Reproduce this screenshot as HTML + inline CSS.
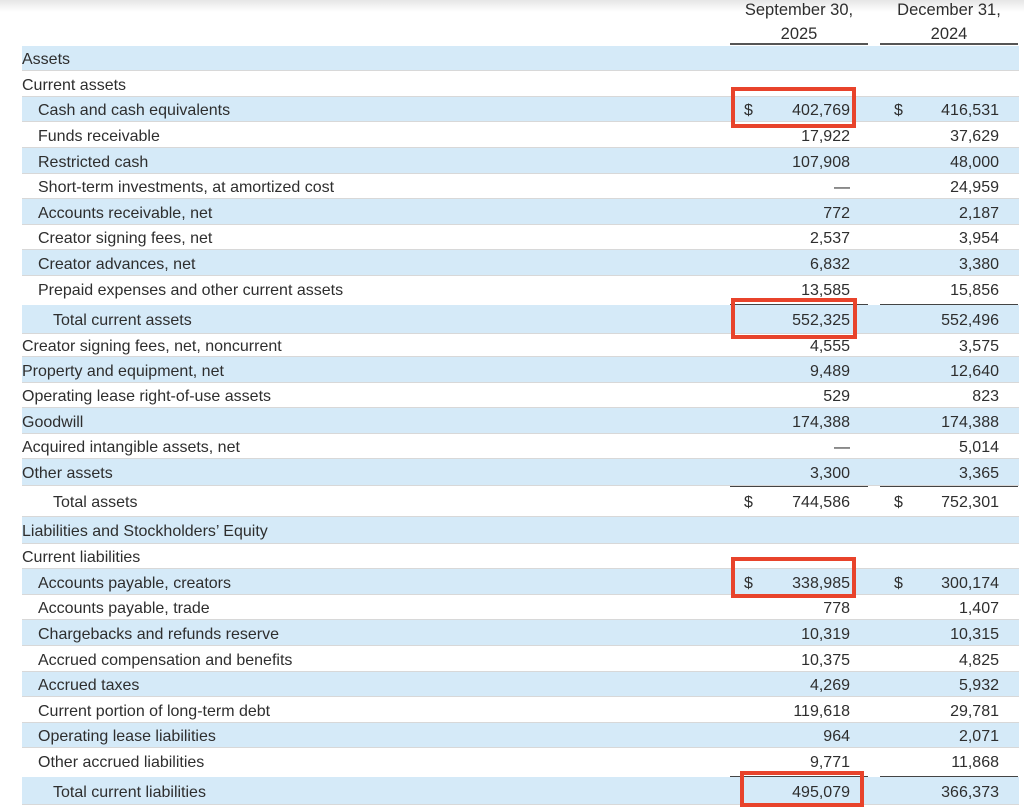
<!DOCTYPE html>
<html><head><meta charset="utf-8"><style>
body{margin:0;width:1024px;height:807px;background:#fff;position:relative;overflow:hidden;font-family:"Liberation Sans",sans-serif;color:#2e2e2e;font-size:16px}
.r{position:absolute;left:22px;width:997px;border-bottom:1px solid #d8d8d8;box-sizing:border-box}
.s{background:#d5eaf8}
.r span{margin-top:2px}
.l{position:absolute;top:50%;transform:translateY(-50%);white-space:nowrap}
.n1{position:absolute;right:169px;top:50%;transform:translateY(-50%)}
.n2{position:absolute;right:20px;top:50%;transform:translateY(-50%)}
.d1{position:absolute;left:722px;top:50%;transform:translateY(-50%)}
.d2{position:absolute;left:872px;top:50%;transform:translateY(-50%)}
.h{position:absolute;text-align:center;width:138px;line-height:24px;font-size:16.5px}
.u{position:absolute;height:2px;background:#555}
.ul{position:absolute;height:1px;background:#444}
.box{position:absolute;border:4px solid #e8432b;box-sizing:border-box}
</style></head><body>
<div style="position:absolute;left:0;top:0;width:1024px;height:12px;background:linear-gradient(#e6e6e6,#fff)"></div>
<div class="h" style="left:730px;top:-2px">September 30,<br>2025</div>
<div class="h" style="left:880px;top:-2px">December 31,<br>2024</div>
<div class="u" style="left:730px;top:43px;width:138px"></div>
<div class="u" style="left:880px;top:43px;width:138px"></div>

<div class="r s" style="top:46px;height:25px"><span class="l" style="left:0">Assets</span></div>
<div class="r" style="top:71px;height:26px"><span class="l" style="left:0">Current assets</span></div>
<div class="r s" style="top:97px;height:25px"><span class="l" style="left:16px">Cash and cash equivalents</span><span class="d1">$</span><span class="n1">402,769</span><span class="d2">$</span><span class="n2">416,531</span></div>
<div class="r" style="top:122px;height:26px"><span class="l" style="left:16px">Funds receivable</span><span class="n1">17,922</span><span class="n2">37,629</span></div>
<div class="r s" style="top:148px;height:26px"><span class="l" style="left:16px">Restricted cash</span><span class="n1">107,908</span><span class="n2">48,000</span></div>
<div class="r" style="top:174px;height:25px"><span class="l" style="left:16px">Short-term investments, at amortized cost</span><span class="n1">—</span><span class="n2">24,959</span></div>
<div class="r s" style="top:199px;height:26px"><span class="l" style="left:16px">Accounts receivable, net</span><span class="n1">772</span><span class="n2">2,187</span></div>
<div class="r" style="top:225px;height:25px"><span class="l" style="left:16px">Creator signing fees, net</span><span class="n1">2,537</span><span class="n2">3,954</span></div>
<div class="r s" style="top:250px;height:26px"><span class="l" style="left:16px">Creator advances, net</span><span class="n1">6,832</span><span class="n2">3,380</span></div>
<div class="r" style="top:276px;height:29px;border-bottom:none"><span class="l" style="left:16px;top:13px">Prepaid expenses and other current assets</span><span class="n1" style="top:13px">13,585</span><span class="n2" style="top:13px">15,856</span></div>
<div class="r s" style="top:305px;height:29px"><span class="l" style="left:31px">Total current assets</span><span class="n1">552,325</span><span class="n2">552,496</span></div>
<div class="r" style="top:334px;height:23px"><span class="l" style="left:0">Creator signing fees, net, noncurrent</span><span class="n1">4,555</span><span class="n2">3,575</span></div>
<div class="r s" style="top:357px;height:26px"><span class="l" style="left:0">Property and equipment, net</span><span class="n1">9,489</span><span class="n2">12,640</span></div>
<div class="r" style="top:383px;height:25px"><span class="l" style="left:0">Operating lease right-of-use assets</span><span class="n1">529</span><span class="n2">823</span></div>
<div class="r s" style="top:408px;height:26px"><span class="l" style="left:0">Goodwill</span><span class="n1">174,388</span><span class="n2">174,388</span></div>
<div class="r" style="top:434px;height:25px"><span class="l" style="left:0">Acquired intangible assets, net</span><span class="n1">—</span><span class="n2">5,014</span></div>
<div class="r s" style="top:459px;height:27px"><span class="l" style="left:0">Other assets</span><span class="n1">3,300</span><span class="n2">3,365</span></div>
<div class="r" style="top:486px;height:31px"><span class="l" style="left:31px">Total assets</span><span class="d1">$</span><span class="n1">744,586</span><span class="d2">$</span><span class="n2">752,301</span></div>
<div class="r s" style="top:517px;height:27px"><span class="l" style="left:0">Liabilities and Stockholders’ Equity</span></div>
<div class="r" style="top:544px;height:25px"><span class="l" style="left:0">Current liabilities</span></div>
<div class="r s" style="top:569px;height:26px"><span class="l" style="left:16px">Accounts payable, creators</span><span class="d1">$</span><span class="n1">338,985</span><span class="d2">$</span><span class="n2">300,174</span></div>
<div class="r" style="top:595px;height:25px"><span class="l" style="left:16px">Accounts payable, trade</span><span class="n1">778</span><span class="n2">1,407</span></div>
<div class="r s" style="top:620px;height:26px"><span class="l" style="left:16px">Chargebacks and refunds reserve</span><span class="n1">10,319</span><span class="n2">10,315</span></div>
<div class="r" style="top:646px;height:26px"><span class="l" style="left:16px">Accrued compensation and benefits</span><span class="n1">10,375</span><span class="n2">4,825</span></div>
<div class="r s" style="top:672px;height:25px"><span class="l" style="left:16px">Accrued taxes</span><span class="n1">4,269</span><span class="n2">5,932</span></div>
<div class="r" style="top:697px;height:26px"><span class="l" style="left:16px">Current portion of long-term debt</span><span class="n1">119,618</span><span class="n2">29,781</span></div>
<div class="r s" style="top:723px;height:25px"><span class="l" style="left:16px">Operating lease liabilities</span><span class="n1">964</span><span class="n2">2,071</span></div>
<div class="r" style="top:748px;height:29px;border-bottom:none"><span class="l" style="left:16px;top:13px">Other accrued liabilities</span><span class="n1" style="top:13px">9,771</span><span class="n2" style="top:13px">11,868</span></div>
<div class="r s" style="top:777px;height:28px"><span class="l" style="left:31px">Total current liabilities</span><span class="n1">495,079</span><span class="n2">366,373</span></div>

<div class="ul" style="left:730px;top:304px;width:138px"></div>
<div class="ul" style="left:880px;top:304px;width:138px"></div>
<div class="ul" style="left:730px;top:486px;width:138px"></div>
<div class="ul" style="left:880px;top:486px;width:138px"></div>
<div class="ul" style="left:730px;top:776px;width:138px"></div>
<div class="ul" style="left:880px;top:776px;width:138px"></div>

<div class="box" style="left:731px;top:87px;width:125px;height:41px"></div>
<div class="box" style="left:731px;top:298px;width:126px;height:41px"></div>
<div class="box" style="left:731px;top:557px;width:125px;height:41px"></div>
<div class="box" style="left:740px;top:771px;width:124px;height:36px"></div>
</body></html>
